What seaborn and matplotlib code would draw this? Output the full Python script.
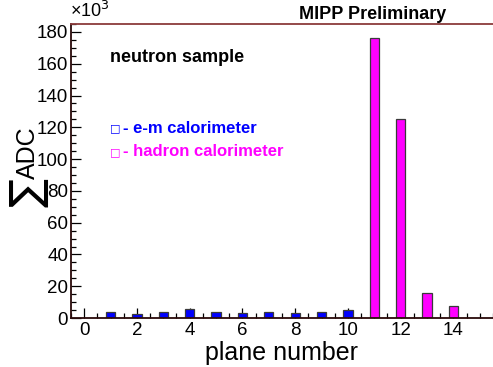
import matplotlib
matplotlib.use("Agg")
import matplotlib.pyplot as plt
from matplotlib.ticker import MultipleLocator
import seaborn as sns
import pandas as pd

# Summed ADC per plane, in units of 10^3
em_planes = [1, 2, 3, 4, 5, 6, 7, 8, 9, 10]
em_adc = [3.6, 2.3, 3.6, 5.5, 3.6, 3.0, 4.0, 3.4, 4.0, 5.2]
had_planes = [11, 12, 13, 14]
had_adc = [176, 125, 16, 7.5]

em_label = "e-m calorimeter"
had_label = "hadron calorimeter"

df = pd.DataFrame({
    "plane": em_planes + had_planes,
    "adc": em_adc + had_adc,
    "detector": [em_label] * len(em_planes) + [had_label] * len(had_planes),
})

sns.set_style("ticks")
plt.rcParams["font.family"] = ["Liberation Sans", "DejaVu Sans"]
plt.rcParams.update({"text.color": "black", "axes.labelcolor": "black",
                     "xtick.color": "black", "ytick.color": "black"})

fig = plt.figure(figsize=(4.93, 3.67), dpi=100)
ax = fig.add_axes([0.144, 0.1335, 0.856, 0.801])

sns.barplot(data=df, x="plane", y="adc", hue="detector", dodge=False,
            native_scale=True, width=0.35, saturation=1,
            palette={em_label: "#0000ff", had_label: "#ff00ff"},
            edgecolor="#3a3a3a", linewidth=0.9, legend=False, ax=ax)

ax.set_xlim(-0.5, 15.5)
ax.set_ylim(0, 185)
ax.xaxis.set_major_locator(MultipleLocator(2))
ax.xaxis.set_minor_locator(MultipleLocator(0.5))
ax.yaxis.set_major_locator(MultipleLocator(20))
ax.yaxis.set_minor_locator(MultipleLocator(5))
ax.tick_params(axis="both", which="both", direction="in", color="black",
               labelcolor="black", labelsize=13.5, width=0.9)
ax.tick_params(axis="x", which="major", length=7, pad=3)
ax.tick_params(axis="x", which="minor", length=3.5)
ax.tick_params(axis="y", which="major", length=7.5, pad=2)
ax.tick_params(axis="y", which="minor", length=3.8)

for side in ("left", "bottom"):
    ax.spines[side].set_color("#2a0a0a")
    ax.spines[side].set_linewidth(1.3)
ax.spines["top"].set_color("#8b3a3a")
ax.spines["top"].set_linewidth(1.3)
ax.spines["right"].set_visible(False)

ax.set_xlabel("plane number", fontsize=18, labelpad=1, color="black")
ax.set_ylabel("")

# Y-axis title: a large sigma followed by "ADC", both rotated
fig.text(0.058, 0.475, "\u2211", rotation=90, fontsize=31,
         ha="center", va="center", family="DejaVu Sans", color="black")
fig.text(0.057, 0.585, "ADC", rotation=90, fontsize=18,
         ha="center", va="center", color="black")

fig.text(0.142, 0.942, "\u00d710$^3$", fontsize=13, ha="left", va="bottom",
         color="black")
fig.text(0.905, 0.937, "MIPP Preliminary", fontsize=13, fontweight="bold",
         ha="right", va="bottom", color="black")

ax.text(0.092, 0.885, "neutron sample", transform=ax.transAxes,
        fontsize=13, fontweight="bold", ha="left", va="center", color="black")
ax.text(0.093, 0.645, "\u25a1", transform=ax.transAxes, fontsize=8,
        color="#0000ff", ha="left", va="center", family="DejaVu Sans")
ax.text(0.123, 0.645, "- " + em_label, transform=ax.transAxes,
        fontsize=12, fontweight="bold", color="#0000ff", ha="left", va="center")
ax.text(0.093, 0.565, "\u25a1", transform=ax.transAxes, fontsize=8,
        color="#ff00ff", ha="left", va="center", family="DejaVu Sans")
ax.text(0.123, 0.565, "- " + had_label, transform=ax.transAxes,
        fontsize=12, fontweight="bold", color="#ff00ff", ha="left", va="center")

fig.savefig("out.png", dpi=100)
